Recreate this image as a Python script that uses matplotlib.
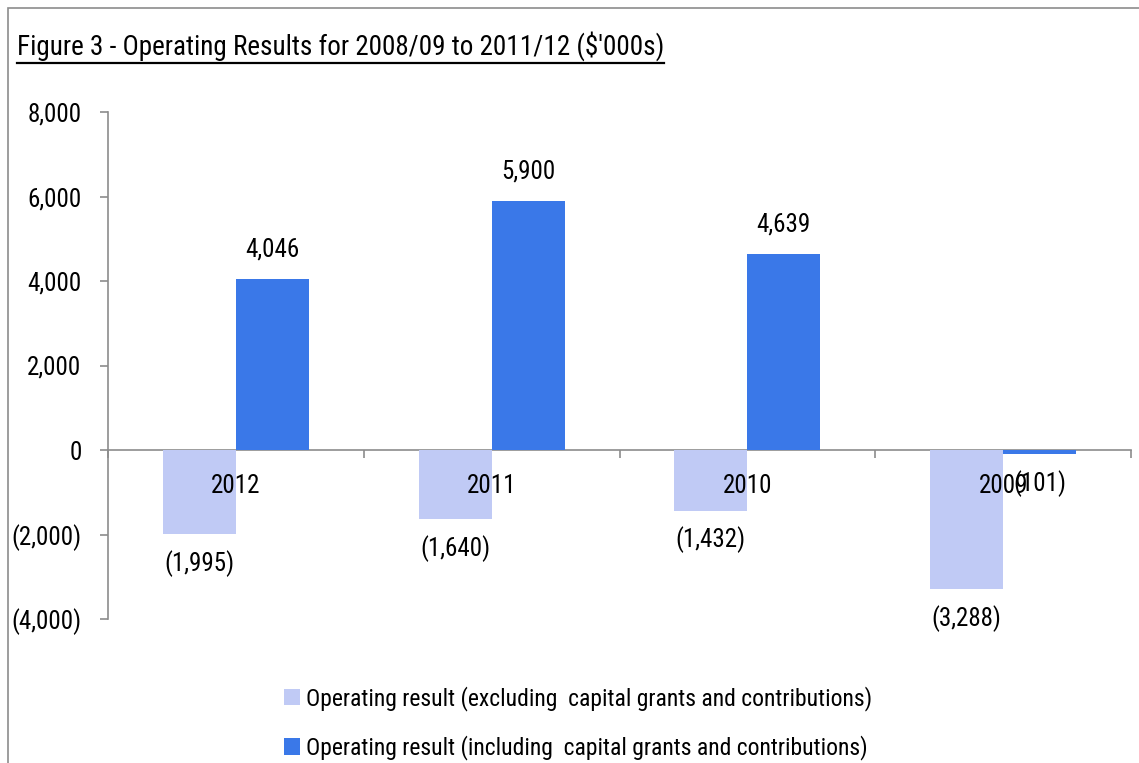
import matplotlib
matplotlib.use("Agg")
import matplotlib.pyplot as plt
from matplotlib.patches import Rectangle, Patch
from matplotlib.lines import Line2D

plt.rcParams['font.family'] = ['Roboto Condensed', 'Archivo Narrow', 'Liberation Sans']

years = ["2012", "2011", "2010", "2009"]
excl_capital = [-1995, -1640, -1432, -3288]
incl_capital = [4046, 5900, 4639, -101]
yticks = [-4000, -2000, 0, 2000, 4000, 6000, 8000]
title = "Figure 3 - Operating Results for 2008/09 to 2011/12 ($'000s)"
legend_labels = ["Operating result (excluding  capital grants and contributions)",
                 "Operating result (including  capital grants and contributions)"]

light = "#C0CAF5"
dark = "#3A78E8"
grey = "#8C8C8C"


def fmt(v):
    return f"{v:,}" if v >= 0 else f"({-v:,})"


W, H = 1139, 763
fig = plt.figure(figsize=(W / 100, H / 100), dpi=100)
fig.patch.set_facecolor("white")

# outer frame of the chart area
fig.patches.append(Rectangle((8 / W, -0.01), 1.2, 1 - 8 / H + 0.01, transform=fig.transFigure,
                             fill=False, edgecolor=grey, linewidth=1.2))

ax = fig.add_axes([108 / W, 1 - 619 / H, (1131 - 108) / W, (619 - 112) / H])
x = list(range(len(years)))
bw = 0.285
b1 = ax.bar([i - bw / 2 for i in x], excl_capital, width=bw, color=light, zorder=2)
b2 = ax.bar([i + bw / 2 for i in x], incl_capital, width=bw, color=dark, zorder=2)

for bars, vals in ((b1, excl_capital), (b2, incl_capital)):
    for rect, v in zip(bars, vals):
        off = 21 if v >= 0 else -21
        ax.annotate(fmt(v), (rect.get_x() + rect.get_width() / 2, v), xytext=(0, off),
                    textcoords="offset points", ha="center", va="center", fontsize=18, zorder=5)

ax.set_xlim(-0.5, len(years) - 0.5)
ax.set_ylim(-4000, 8000)
ax.set_yticks(yticks)
ax.set_yticklabels([fmt(v) for v in yticks])

ax.set_xticks(x)
ax.set_xticklabels(years)
ax.set_xticks([i - 0.5 for i in range(len(years) + 1)], minor=True)
ax.tick_params(axis="x", which="major", length=0, pad=17, labelsize=18)
ax.tick_params(axis="x", which="minor", length=6, color=grey, direction="out", width=1.2)
ax.tick_params(axis="y", length=6, color=grey, direction="out", width=1.2, pad=13, labelsize=18)
ax.xaxis.set_zorder(3)

for s in ("top", "right"):
    ax.spines[s].set_visible(False)
ax.spines["bottom"].set_position(("data", 0))
ax.spines["bottom"].set_color(grey)
ax.spines["bottom"].set_linewidth(1.2)
ax.spines["bottom"].set_zorder(1)
ax.spines["left"].set_color(grey)
ax.spines["left"].set_linewidth(1.2)

# underlined title
t = fig.text(17 / W, 1 - 46 / H, title, fontsize=19.5, ha="left", va="center")
fig.canvas.draw()
bb = t.get_window_extent(renderer=fig.canvas.get_renderer())
fig.add_artist(Line2D([bb.x0 / W, bb.x1 / W], [1 - 63 / H, 1 - 63 / H],
                      transform=fig.transFigure, color="black", linewidth=1.6))

handles = [Patch(facecolor=light, edgecolor="none"), Patch(facecolor=dark, edgecolor="none")]
fig.legend(handles, legend_labels, loc="center", bbox_to_anchor=(578 / W, 1 - 723 / H),
           frameon=False, fontsize=17, handlelength=0.7, handleheight=0.7,
           handletextpad=0.25, labelspacing=1.05)

fig.savefig("out.png", dpi=100)
